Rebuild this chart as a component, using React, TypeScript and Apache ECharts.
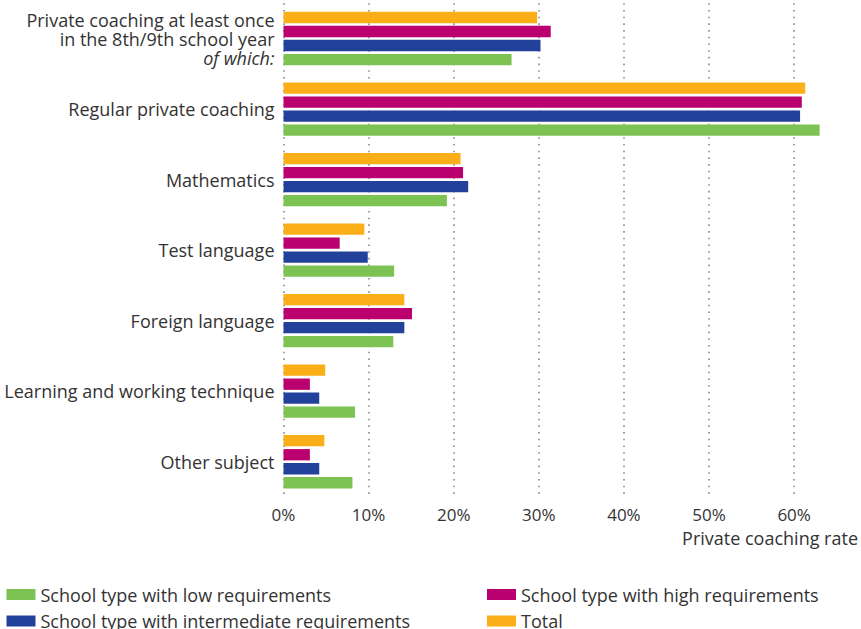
import React, { useEffect, useRef } from "react";
import * as echarts from "echarts";

const categories = [
  "Private coaching at least once\nin the 8th/9th school year\n{i|of which:}",
  "Regular private coaching",
  "Mathematics",
  "Test language",
  "Foreign language",
  "Learning and working technique",
  "Other subject",
];

const seriesNames = [
  "Total",
  "School type with high requirements",
  "School type with intermediate requirements",
  "School type with low requirements",
];

const totalValues = [29.8, 61.3, 20.8, 9.5, 14.2, 4.9, 4.8];
const highValues = [31.4, 60.9, 21.1, 6.6, 15.1, 3.1, 3.1];
const intermediateValues = [30.2, 60.7, 21.7, 9.9, 14.2, 4.2, 4.2];
const lowValues = [26.8, 63.0, 19.2, 13.0, 12.9, 8.4, 8.1];

const xTicks = [0, 10, 20, 30, 40, 50, 60];
const xAxisTitle = "Private coaching rate";

const colors = ["#FAAF19", "#BA006E", "#22419A", "#7DC353"];
const FONT = "'Open Sans', 'Noto Sans', sans-serif";
const TEXT = "#333333";

// legend placement: [series index, left, top]
const legendSlots: [number, number, number][] = [
  [3, 6.5, 585.5],
  [2, 6.5, 612],
  [1, 487, 585.5],
  [0, 487, 612],
];

export default function App() {
  const ref = useRef<HTMLDivElement>(null);
  useEffect(() => {
    if (!ref.current) return;
    const chart = echarts.init(ref.current, undefined, { renderer: "svg" });
    const values = [totalValues, highValues, intermediateValues, lowValues];
    chart.setOption({
      animation: false,
      textStyle: { fontFamily: FONT },
      grid: { left: 283.5, right: 7.3, top: 3.25, bottom: 132, containLabel: false },
      xAxis: {
        type: "value",
        min: xTicks[0],
        max: 67,
        interval: 10,
        axisLine: { show: false },
        axisTick: { show: false },
        axisLabel: {
          formatter: "{value}%",
          color: TEXT,
          fontSize: 17,
          fontFamily: FONT,
          margin: 9,
          showMaxLabel: false,
        },
        splitLine: {
          show: true,
          showMaxLine: false,
          lineStyle: { color: "#8a8a8a", width: 1.6, type: [1.6, 5.1] },
        },
      },
      yAxis: {
        type: "category",
        data: categories,
        inverse: true,
        axisLine: { show: false },
        axisTick: { show: false },
        axisLabel: {
          color: TEXT,
          fontSize: 18,
          fontFamily: FONT,
          margin: 9,
          lineHeight: 19,
          align: "right",
          rich: {
            i: { fontStyle: "italic", fontSize: 18, lineHeight: 19, color: TEXT, fontFamily: FONT },
          },
        },
        splitLine: { show: false },
      },
      legend: legendSlots.map(([si, left, top]) => ({
        left,
        top,
        padding: 0,
        orient: "horizontal",
        itemWidth: 29,
        itemHeight: 11,
        itemTextGap: 12,
        icon: "rect",
        textStyle: { color: TEXT, fontSize: 18, fontFamily: FONT, lineHeight: 18 },
        data: [seriesNames[si]],
      })),
      graphic: [
        {
          type: "text",
          right: 3,
          top: 529,
          style: { text: xAxisTitle, fill: TEXT, font: `18px ${FONT}` },
        },
      ],
      series: seriesNames.map((name, i) => ({
        name,
        type: "bar",
        data: values[i],
        barWidth: 11.3,
        barGap: "24%",
        itemStyle: { color: colors[i] },
      })),
    });
    return () => chart.dispose();
  }, []);
  return <div ref={ref} style={{ width: 861, height: 629, position: "absolute", left: 0, top: 0 }} />;
}
